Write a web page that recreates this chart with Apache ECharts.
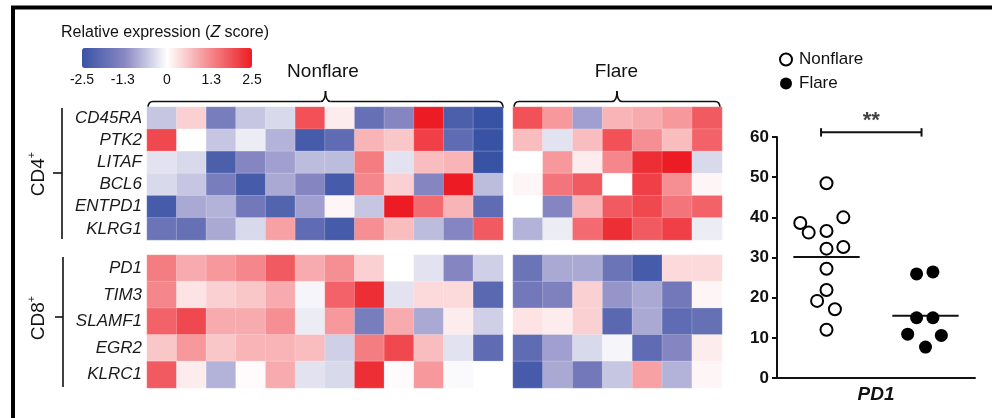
<!DOCTYPE html>
<html>
<head>
<meta charset="utf-8">
<script src="https://cdn.jsdelivr.net/npm/echarts@6/dist/echarts.min.js"></script>
<style>html,body{margin:0;padding:0;background:#fff;}#c{width:992px;height:418px;}</style>
</head>
<body>
<div id="c"></div>
<script>
// ---------- DATA ----------
const genesCD4 = ['CD45RA','PTK2','LITAF','BCL6','ENTPD1','KLRG1'];
const genesCD8 = ['PD1','TIM3','SLAMF1','EGR2','KLRC1'];
const nonflareSamples = ['N1','N2','N3','N4','N5','N6','N7','N8','N9','N10','N11','N12'];
const flareSamples = ['F1','F2','F3','F4','F5','F6','F7'];

const cd4Nonflare = [
  [-0.6, 0.5, -1.5, -0.6, -0.4, 1.9, 0.2, -1.8, -1.3, 2.5, -2.2, -2.5],
  [2.0, 0.0, -0.6, -0.2, -0.8, -2.3, -1.9, 0.8, 0.6, 2.1, -1.9, -2.5],
  [-0.3, -0.4, -2.2, -1.3, -1.0, -0.7, -0.7, 1.4, -0.3, 0.7, 0.8, -2.5],
  [-0.4, -0.6, -1.5, -2.3, -0.9, -1.3, -2.3, 1.3, 0.5, -1.3, 2.5, -0.7],
  [-2.3, -0.9, -0.8, -1.6, -2.1, -1.0, 0.1, -0.6, 2.5, 1.6, 0.8, -1.9],
  [-1.7, -1.8, -0.9, -0.4, 1.0, -1.9, -2.3, 1.2, 0.7, -0.7, -1.3, 1.8]
];
const cd4Flare = [
  [1.9, 1.1, -1.0, 0.8, 0.9, 1.1, 1.8],
  [0.7, -0.3, 0.7, 1.9, 1.2, 0.7, 1.7],
  [0.0, 1.1, 0.2, 1.3, 2.3, 2.5, -0.4],
  [0.1, 1.5, 1.8, 0.0, 2.1, 1.2, 0.1],
  [0.0, -1.3, 0.8, 1.8, 2.0, 1.5, 1.7],
  [-0.8, -0.2, 1.6, 2.3, 1.8, 2.1, -0.2]
];
const cd8Nonflare = [
  [1.4, 0.9, 1.1, 1.3, 1.8, 0.9, 1.2, 0.5, 0.0, -0.3, -1.3, -0.5],
  [1.3, 0.3, 0.5, 0.6, 0.9, -0.1, 1.7, 2.3, -0.3, 0.4, 0.4, -2.0],
  [1.7, 2.0, 0.9, 0.9, 1.2, -0.2, 1.1, -1.5, 0.9, -0.9, 0.2, -0.5],
  [0.6, 1.1, 0.6, 0.8, 0.8, 0.7, -0.5, 1.4, 2.0, 0.7, -0.3, -1.9],
  [1.8, 0.2, -0.8, 0.05, 0.9, -0.3, -0.4, 2.3, 0.05, 1.1, -0.05, 0.0]
];
const cd8Flare = [
  [-1.7, -0.9, -0.9, -1.7, -2.3, 0.4, 0.4],
  [-1.6, -1.4, 0.5, -1.1, -0.9, -1.6, 0.1],
  [0.3, 0.2, 0.5, -2.0, -0.9, -1.9, -1.8],
  [-1.9, -1.0, -0.4, -0.1, -1.9, -1.3, 0.2],
  [-2.3, -0.9, -1.6, -0.6, 1.0, -0.8, 0.1]
];
const colorbarTicks = [-2.5, -1.3, 0, 1.3, 2.5];

// PD1 dot plot
const pd1Nonflare = [48.5, 38.6, 36.2, 36.6, 40.0, 32.2, 32.6, 27.2, 21.9, 19.2, 17.1, 12.0];
const pd1NonflareJitter = [0, -0.53, -0.36, 0, 0.34, 0, 0.34, 0, 0, -0.19, 0.17, 0];
const pd1Flare = [25.9, 26.4, 15.0, 15.0, 10.9, 10.6, 7.7];
const pd1FlareJitter = [-0.18, 0.15, -0.18, 0.15, -0.36, 0.32, 0];
const pd1Means = [30.1, 15.5];
const groupCenters = [1, 3];
const sigBracket = { x1: 0.89, x2: 2.92, y: 61.2, yLow: 60.1, yHigh: 62.2 };

// ---------- BUILD ----------
const FONT = 'Liberation Sans, Arial, Helvetica, sans-serif';
function toCells(m) {
  const out = [];
  m.forEach((row, r) => row.forEach((v, c) => out.push([c, r, v])));
  return out;
}
const heatGrids = [
  { left: 147, top: 107, width: 356, height: 133 },
  { left: 513, top: 107, width: 209, height: 133 },
  { left: 147, top: 255, width: 356, height: 133 },
  { left: 513, top: 255, width: 209, height: 133 }
];
const heatSets = [
  { x: nonflareSamples, y: genesCD4, d: cd4Nonflare, labels: true },
  { x: flareSamples, y: genesCD4, d: cd4Flare, labels: false },
  { x: nonflareSamples, y: genesCD8, d: cd8Nonflare, labels: true },
  { x: flareSamples, y: genesCD8, d: cd8Flare, labels: false }
];
const grid = heatGrids.slice();
grid.push({ left: 82, top: 48, width: 170, height: 20 });      // colorbar axis
grid.push({ left: 777, top: 137, width: 198, height: 241 });   // dot plot

const xAxis = [], yAxis = [], series = [];
heatSets.forEach((s, i) => {
  xAxis.push({ type: 'category', gridIndex: i, data: s.x, show: false });
  yAxis.push({
    type: 'category', gridIndex: i, data: s.y, inverse: true,
    axisLine: { show: false }, axisTick: { show: false }, splitLine: { show: false },
    axisLabel: { show: s.labels, fontStyle: 'italic', fontSize: 17, color: '#1a1a1a', fontFamily: FONT, margin: 5 }
  });
  series.push({
    type: 'heatmap', xAxisIndex: i, yAxisIndex: i, data: toCells(s.d),
    itemStyle: { borderWidth: 0.6, borderColor: 'rgba(255,255,255,0.35)' }
  });
});
// colorbar axis
xAxis.push({
  type: 'value', gridIndex: 4, min: -2.5, max: 2.5,
  axisLine: { show: false }, axisTick: { show: false }, splitLine: { show: false },
  axisLabel: { customValues: colorbarTicks, fontSize: 14, color: '#111', fontFamily: FONT, margin: 5,
    formatter: v => String(v) }
});
yAxis.push({ type: 'value', gridIndex: 4, show: false });
series.push({ type: 'line', xAxisIndex: 4, yAxisIndex: 4, data: [], silent: true });

// dot plot axes
xAxis.push({
  type: 'value', gridIndex: 5, min: 0, max: 4,
  axisLine: { show: true, lineStyle: { color: '#111', width: 2 } },
  axisTick: { show: false }, axisLabel: { show: false }, splitLine: { show: false },
  name: 'PD1', nameLocation: 'middle', nameGap: 7,
  nameTextStyle: { fontSize: 19, fontWeight: 'bold', fontStyle: 'italic', color: '#111', fontFamily: FONT, verticalAlign: 'top' }
});
yAxis.push({
  type: 'value', gridIndex: 5, min: 0, max: 60, interval: 10,
  axisLine: { show: true, lineStyle: { color: '#111', width: 2 } },
  axisTick: { show: true, length: 5, lineStyle: { color: '#111', width: 2 } },
  axisLabel: { fontSize: 17, fontWeight: 'bold', color: '#111', fontFamily: FONT, margin: 8 },
  splitLine: { show: false }
});
series.push({
  name: 'Nonflare', type: 'scatter', xAxisIndex: 5, yAxisIndex: 5, symbol: 'circle', symbolSize: 12,
  itemStyle: { color: '#fff', borderColor: '#000', borderWidth: 2, opacity: 1 },
  data: pd1Nonflare.map((v, i) => [groupCenters[0] + pd1NonflareJitter[i], v]), z: 5
});
series.push({
  name: 'Flare', type: 'scatter', xAxisIndex: 5, yAxisIndex: 5, symbol: 'circle', symbolSize: 13,
  itemStyle: { color: '#000', borderColor: '#000', borderWidth: 0, opacity: 1 },
  data: pd1Flare.map((v, i) => [groupCenters[1] + pd1FlareJitter[i], v]), z: 5
});
const meanHalf = 0.67;
pd1Means.forEach((m, i) => {
  series.push({
    type: 'line', xAxisIndex: 5, yAxisIndex: 5, symbol: 'none', silent: true, z: 3,
    lineStyle: { color: '#111', width: 2 },
    data: [[groupCenters[i] - meanHalf, m], [groupCenters[i] + meanHalf, m]]
  });
});
const bracketSegs = [
  [[sigBracket.x1, sigBracket.y], [sigBracket.x2, sigBracket.y]],
  [[sigBracket.x1, sigBracket.yLow], [sigBracket.x1, sigBracket.yHigh]],
  [[sigBracket.x2, sigBracket.yLow], [sigBracket.x2, sigBracket.yHigh]]
];
bracketSegs.forEach(seg => series.push({
  type: 'line', xAxisIndex: 5, yAxisIndex: 5, symbol: 'none', silent: true, clip: false,
  lineStyle: { color: '#111', width: 2 }, data: seg
}));
series.push({
  type: 'scatter', xAxisIndex: 5, yAxisIndex: 5, symbolSize: 0, silent: true, clip: false,
  data: [[(sigBracket.x1 + sigBracket.x2) / 2, sigBracket.y]],
  label: { show: true, position: 'top', distance: 0, formatter: '**', fontSize: 22, fontWeight: 'bold', color: '#111', fontFamily: FONT }
});

// curly brace helper (graphic elements)
function brace(x1, x2, yEnd, yBar, yPeak) {
  const xm = (x1 + x2) / 2, r = 5;
  const st = { stroke: '#111', lineWidth: 1.6, fill: null };
  return [
    { type: 'bezierCurve', shape: { x1: x1, y1: yEnd, cpx1: x1, cpy1: yBar, x2: x1 + r, y2: yBar }, style: st },
    { type: 'line', shape: { x1: x1 + r, y1: yBar, x2: xm - r, y2: yBar }, style: st },
    { type: 'bezierCurve', shape: { x1: xm - r, y1: yBar, cpx1: xm, cpy1: yBar, x2: xm, y2: yPeak }, style: st },
    { type: 'bezierCurve', shape: { x1: xm + r, y1: yBar, cpx1: xm, cpy1: yBar, x2: xm, y2: yPeak }, style: st },
    { type: 'line', shape: { x1: xm + r, y1: yBar, x2: x2 - r, y2: yBar }, style: st },
    { type: 'bezierCurve', shape: { x1: x2, y1: yEnd, cpx1: x2, cpy1: yBar, x2: x2 - r, y2: yBar }, style: st }
  ];
}

const groupRich = {
  a: { fontSize: 19, fontFamily: FONT, fill: '#111', lineHeight: 22, verticalAlign: 'bottom' },
  s: { fontSize: 11, fontFamily: FONT, fill: '#111', lineHeight: 11, verticalAlign: 'top' }
};
const graphics = [
  { type: 'polyline', shape: { points: [[13, 418], [13, 7.5], [992, 7.5]] }, style: { stroke: '#000', lineWidth: 4, fill: null } },
  { type: 'text', x: 61, y: 33, style: {
      text: '{a|Relative expression (}{b|Z}{a| score)}', verticalAlign: 'middle',
      rich: { a: { fontSize: 16, fontFamily: FONT, fill: '#111' }, b: { fontSize: 16, fontFamily: FONT, fontStyle: 'italic', fill: '#111' } } } },
  { type: 'text', x: 323, y: 72, style: { text: 'Nonflare', fontSize: 19, fontFamily: FONT, fill: '#111', align: 'center', verticalAlign: 'middle' } },
  { type: 'text', x: 616.5, y: 72, style: { text: 'Flare', fontSize: 19, fontFamily: FONT, fill: '#111', align: 'center', verticalAlign: 'middle' } },
  { type: 'line', shape: { x1: 62, y1: 108, x2: 62, y2: 239 }, style: { stroke: '#111', lineWidth: 1.6 } },
  { type: 'line', shape: { x1: 53, y1: 173, x2: 62, y2: 173 }, style: { stroke: '#111', lineWidth: 1.6 } },
  { type: 'line', shape: { x1: 63, y1: 257, x2: 63, y2: 387 }, style: { stroke: '#111', lineWidth: 1.6 } },
  { type: 'line', shape: { x1: 55, y1: 317, x2: 63, y2: 317 }, style: { stroke: '#111', lineWidth: 1.6 } },
  { type: 'text', x: 37, y: 174, rotation: Math.PI / 2, style: {
      text: '{a|CD4}{s|+}', align: 'center', verticalAlign: 'middle', rich: groupRich } },
  { type: 'text', x: 37, y: 318, rotation: Math.PI / 2, style: {
      text: '{a|CD8}{s|+}', align: 'center', verticalAlign: 'middle', rich: groupRich } }
].concat(brace(148, 503, 108, 101.5, 91)).concat(brace(514, 720, 108, 101.5, 91));

const option = {
  animation: false,
  backgroundColor: '#fff',
  grid: grid,
  xAxis: xAxis,
  yAxis: yAxis,
  visualMap: {
    type: 'continuous', min: -2.5, max: 2.5, orient: 'horizontal',
    left: 82, top: 48, itemWidth: 20, itemHeight: 170, padding: 0,
    calculable: false, seriesIndex: [0, 1, 2, 3],
    inRange: { color: ['#3953a4', '#8887c3', '#ffffff', '#f58a8f', '#ed1c24'] }
  },
  legend: {
    data: ['Nonflare', 'Flare'], orient: 'vertical', left: 779, top: 51, padding: 0,
    itemWidth: 12, itemHeight: 12, itemGap: 7, icon: 'circle',
    textStyle: { fontSize: 17, color: '#111', fontFamily: FONT, padding: [0, 0, 0, 2] }
  },
  series: series,
  graphic: graphics
};
const chart = echarts.init(document.getElementById('c'), null, { renderer: 'canvas' });
chart.setOption(option);
</script>
</body>
</html>
